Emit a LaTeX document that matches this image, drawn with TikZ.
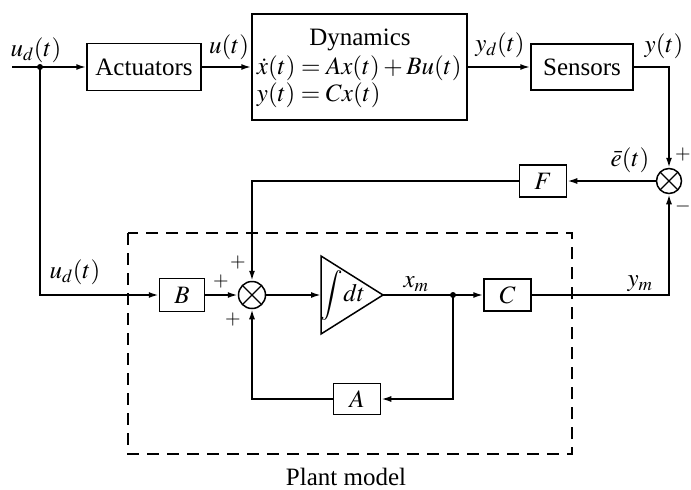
\documentclass[tikz,border=0pt]{standalone}
\usepackage{mathptmx}
\usepackage{fontspec}
\setmainfont{Liberation Serif}
\usetikzlibrary{arrows.meta}
\begin{document}
\begin{tikzpicture}[x=1pt,y=-1pt,
  font=\fontsize{25}{28}\selectfont,
  line width=1.8pt,
  blk/.style={draw, line width=1.5pt, inner sep=0pt},
  arr/.style={-{Latex[length=10pt,width=6pt]}},
  lbl/.style={inner sep=0pt},
  sm/.style={font=\fontsize{20}{22}\selectfont, inner sep=0pt},
  sumj/.style={draw, circle, line width=1.5pt, inner sep=0pt, minimum size=#1,
    path picture={\draw[line width=1.2pt]
      (path picture bounding box.south west) -- (path picture bounding box.north east)
      (path picture bounding box.north west) -- (path picture bounding box.south east);}},
  dot/.style={circle, fill, inner sep=0pt, minimum size=6pt}]
\useasboundingbox (0,0) rectangle (691,490);

% top row
\coordinate (in) at (12,67);
\node[dot] (d1) at (40,67) {};
\node[blk, minimum width=114pt, minimum height=47pt] (act) at (144,67) {Actuators};
\node[blk, minimum width=215pt, minimum height=106pt] (dyn) at (359.5,67) {};
\node[lbl] (dyntitle) at (360,40) {Dynamics};
\node[lbl, anchor=west] (eq1) at (256,68) {$\dot x(t)=Ax(t)+Bu(t)$};
\node[lbl, anchor=west] (eq2) at (256,95) {$y(t)=Cx(t)$};
\node[blk, minimum width=102pt, minimum height=46pt] (sen) at (582,67) {Sensors};

\node[lbl] (lud) at (36,50) {$u_d(t)$};
\node[lbl] (lu) at (229,47) {$u(t)$};
\node[lbl] (lyd) at (500,45) {$y_d(t)$};
\node[lbl] (ly) at (664,46) {$y(t)$};

% feedback
\node[sumj=25pt] (sj2) at (669,181) {};
\node[blk, minimum width=47pt, minimum height=32pt] (F) at (543,181) {$F$};
\node[sumj=27pt] (sj1) at (252,295) {};
\node[blk, minimum width=45pt, minimum height=33pt] (B) at (182,295) {$B$};
\coordinate (tl) at (321,256);
\coordinate (tb) at (321,334);
\coordinate (tap) at (383,295);
\coordinate (tin) at (321,295);
\draw[line width=1.5pt] (tl) -- (tap) -- (tb) -- cycle;
\node[lbl] (intt) at (343,295) {$\displaystyle\int\! dt$};
\node[dot] (d2) at (453,295) {};
\node[blk, minimum width=47pt, minimum height=32pt] (C) at (507.5,295) {$C$};
\node[blk, minimum width=47pt, minimum height=31pt] (A) at (357,399) {$A$};
\coordinate (ar) at (453,399);

\draw[arr] (in) -- (act.west);
\draw[arr] (act.east) -- (dyn.west);
\draw[arr] (dyn.east) -- (sen.west);
\draw[arr] (sen.east) -| (sj2.north);
\draw[arr] (sj2.west) -- (F.east);
\draw[arr] (F.west) -| (sj1.north);
\draw[arr] (d1.center) |- (B.west);
\draw[arr] (B.east) -- (sj1.west);
\draw[arr] (sj1.east) -- (tin);
\draw (tap) -- (d2.center);
\draw[arr] (d2.center) -- (C.west);
\draw[arr] (C.east) -| (sj2.south);
\draw[arr] (d2.center) -- (ar) -- (A.east);
\draw[arr] (A.west) -| (sj1.south);

% labels
\node[lbl] (le) at (630,160) {$\bar e(t)$};
\node[sm] (p1) at (683,155) {$+$};
\node[sm] (m1) at (683,206) {$-$};
\node[sm] (p2) at (238,263) {$+$};
\node[sm] (p3) at (221,282) {$+$};
\node[sm] (p4) at (233,320) {$+$};
\node[lbl] (lud2) at (75,272) {$u_d(t)$};
\node[lbl] (lxm) at (416,284) {$x_m$};
\node[lbl] (lym) at (640,284) {$y_m$};

% plant model box
\draw[line width=1.5pt, dash pattern=on 12pt off 8pt] (128,233) rectangle (572,454);
\node[lbl, anchor=base] (plant) at (346,485) {Plant model};
\end{tikzpicture}
\end{document}
